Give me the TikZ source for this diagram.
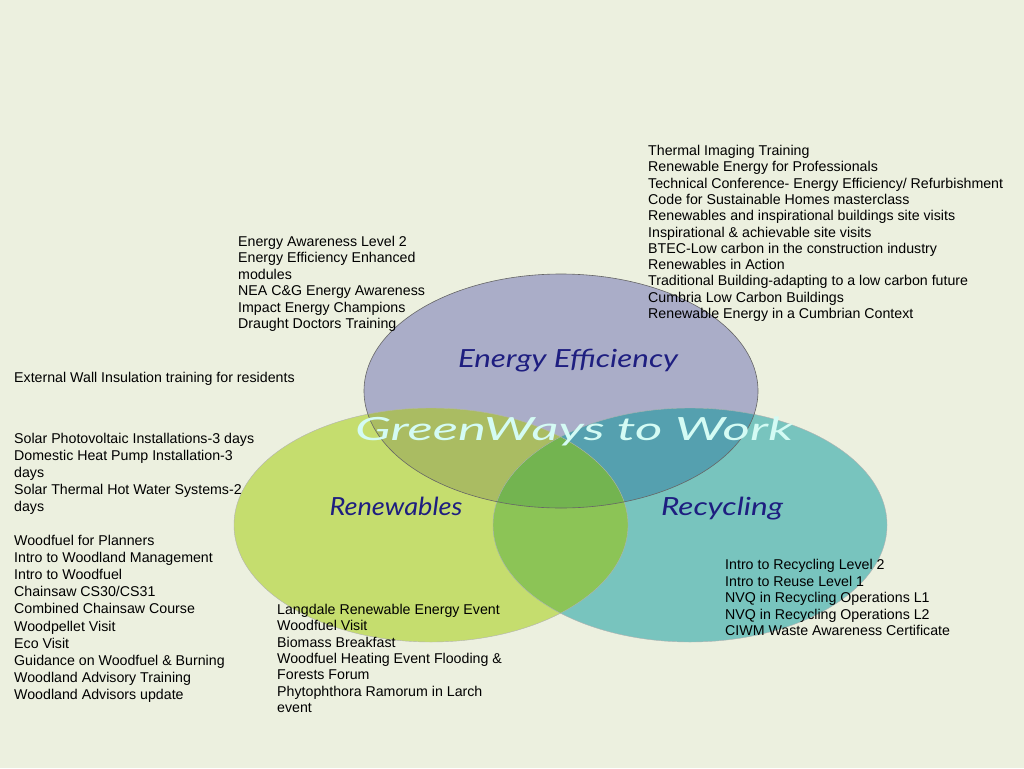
\documentclass[tikz,border=0pt]{standalone}
\usepackage{fontspec}
\setmainfont{Liberation Sans}
\newfontfamily\handfont{Lato}
\usepackage{graphicx}
\definecolor{bgc}{HTML}{ECF0DF}
\definecolor{eec}{HTML}{AAADC8}
\definecolor{renc}{HTML}{C5DD6E}
\definecolor{recc}{HTML}{78C4BE}
\definecolor{eerenc}{HTML}{AABC62}
\definecolor{eerecc}{HTML}{55A0AF}
\definecolor{renrecc}{HTML}{8CC456}
\definecolor{allc}{HTML}{73B450}
\definecolor{navy}{HTML}{1E1E80}
\definecolor{aqua}{HTML}{D4FBF4}
\tikzset{
  listbox/.style={anchor=north west, inner sep=0pt, align=left, text=black},
  titlebox/.style={anchor=base, inner sep=0pt, font=\handfont\itshape\fontsize{25pt}{30pt}\selectfont},
}
\newcommand{\fs}[1]{\fontsize{14.2pt}{#1}\selectfont}
\newcommand{\st}{\rule{0pt}{11pt}}
\begin{document}
\begin{tikzpicture}[x=1pt,y=-1pt]
\useasboundingbox (0,0) rectangle (1024,768);
\fill[bgc] (0,0) rectangle (1024,768);
% circles
\def\EE{(561,391) ellipse [x radius=197pt, y radius=117pt]}
\def\REN{(431,525) ellipse [x radius=197pt, y radius=117pt]}
\def\REC{(690,525) ellipse [x radius=197pt, y radius=117pt]}
\fill[eec] \EE;
\fill[renc] \REN;
\fill[recc] \REC;
\begin{scope}
  \clip \EE;
  \fill[eerenc] \REN;
  \fill[eerecc] \REC;
\end{scope}
\begin{scope}
  \clip \REN;
  \fill[renrecc] \REC;
  \clip \EE;
  \fill[allc] \REC;
\end{scope}
\draw[black!30, line width=0.4pt] \REN;
\draw[black!30, line width=0.4pt] \REC;
\draw[black!60, line width=0.6pt] \EE;
% titles
\node[titlebox, text=navy] (tee) at (568,367) {\resizebox{220pt}{\height}{Energy Efficiency}};
\node[titlebox, text=navy] (tren) at (396,515) {\resizebox{133pt}{\height}{Renewables}};
\node[titlebox, text=navy] (trec) at (722,515) {\resizebox{122pt}{\height}{Recycling}};
\node[titlebox, text=aqua, font=\handfont\itshape\fontsize{32pt}{36pt}\selectfont] (tgw) at (574,440) {\resizebox{438pt}{\height}{GreenWays to Work}};
% lists
\node[listbox, font=\fs{16.3pt}] (eeright) at (648,144.3) {\st Thermal Imaging Training\\
Renewable Energy for Professionals\\
Technical Conference- Energy Efficiency/ Refurbishment\\
Code for Sustainable Homes masterclass\\
Renewables and inspirational buildings site visits\\
Inspirational \& achievable site visits\\
BTEC-Low carbon in the construction industry\\
Renewables in Action\\
Traditional Building-adapting to a low carbon future\\
Cumbria Low Carbon Buildings\\
Renewable Energy in a Cumbrian Context};
\node[listbox, font=\fs{16.4pt}] (eeleft) at (238,235.3) {\st Energy Awareness Level 2\\
Energy Efficiency Enhanced\\
modules\\
NEA C\&G Energy Awareness\\
Impact Energy Champions\\
Draught Doctors Training};
\node[listbox, font=\fs{16.4pt}] (ewi) at (14,371.3) {\st External Wall Insulation training for residents};
\node[listbox, font=\fs{17pt}] (solar) at (14,432.3) {\st Solar Photovoltaic Installations-3 days\\
Domestic Heat Pump Installation-3\\
days\\
Solar Thermal Hot Water Systems-2\\
days};
\node[listbox, font=\fs{17.1pt}] (wood) at (14,534.3) {\st Woodfuel for Planners\\
Intro to Woodland Management\\
Intro to Woodfuel\\
Chainsaw CS30/CS31\\
Combined Chainsaw Course\\
Woodpellet Visit\\
Eco Visit\\
Guidance on Woodfuel \& Burning\\
Woodland Advisory Training\\
Woodland Advisors update};
\node[listbox, font=\fs{16.3pt}] (lang) at (277,603.3) {\st Langdale Renewable Energy Event\\
Woodfuel Visit\\
Biomass Breakfast\\
Woodfuel Heating Event Flooding \&\\
Forests Forum\\
Phytophthora Ramorum in Larch\\
event};
\node[listbox, font=\fs{16.5pt}] (recl) at (725,558.3) {\st Intro to Recycling Level 2\\
Intro to Reuse Level 1\\
NVQ in Recycling Operations L1\\
NVQ in Recycling Operations L2\\
CIWM Waste Awareness Certificate};
\end{tikzpicture}
\end{document}
